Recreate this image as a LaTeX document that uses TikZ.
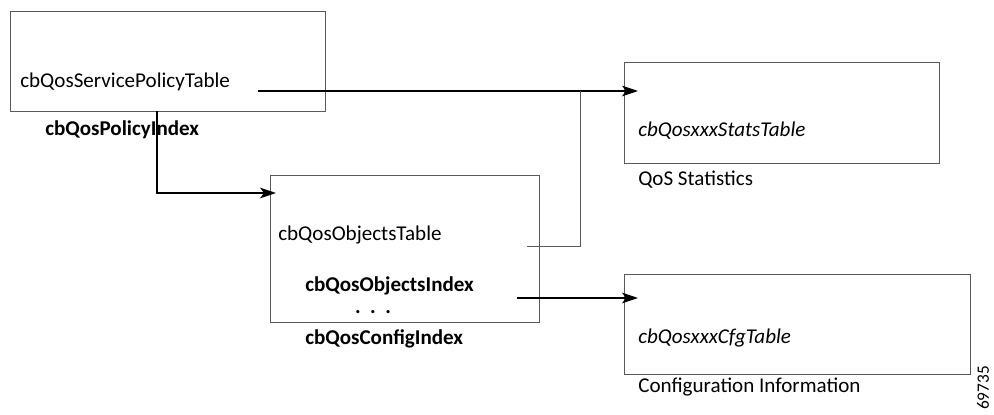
\documentclass[tikz,border=0pt]{standalone}
\usepackage{fontspec}
\setmainfont{Carlito}
\usepackage{tikz}
\usetikzlibrary{arrows.meta}

\newcommand{\tblfont}{\fontsize{15.8}{18}\selectfont}

\begin{document}
\begin{tikzpicture}[x=0.75pt, y=-0.75pt,
  tbl/.style={draw=black!65, line width=0.6pt, inner sep=0pt, anchor=north west},
  lbl/.style={anchor=west, inner sep=0pt, font=\tblfont},
  idx/.style={lbl, font=\tblfont\bfseries},
  tname/.style={lbl, font=\tblfont\itshape},
  link/.style={-{Stealth[length=12pt, width=8pt, inset=3pt]}, line width=1.3pt},
  tap/.style={draw=black!65, line width=0.6pt}]
  \useasboundingbox (0,0) rectangle (994,414);

  % Table boxes
  \node[tbl, minimum width={315*0.75pt}, minimum height={100*0.75pt}] (svc) at (10,11) {};
  \node[tbl, minimum width={269*0.75pt}, minimum height={147*0.75pt}] (obj) at (270,175) {};
  \node[tbl, minimum width={315*0.75pt}, minimum height={101*0.75pt}] (stats) at (624,62) {};
  \node[tbl, minimum width={346*0.75pt}, minimum height={100*0.75pt}] (cfg) at (624,274) {};

  % Table names and indexes
  \node[lbl] (svcname) at (20,82) {cbQosServicePolicyTable};
  \node[idx] (polidx) at (45,130) {cbQosPolicyIndex};
  \node[lbl] (objname) at (278,235) {cbQosObjectsTable};
  \node[idx] (objidx) at (305,286) {cbQosObjectsIndex};
  \node[font=\tblfont\bfseries, inner sep=0pt] (dots) at (373,312) {.\ \ .\ \ .};
  \node[idx] (cfgidx) at (305,339) {cbQosConfigIndex};
  \node[tname] (statsname) at (638,131) {cbQosxxxStatsTable};
  \node[lbl] (statscap) at (638,180) {QoS Statistics};
  \node[tname] (cfgname) at (638,338) {cbQosxxxCfgTable};
  \node[lbl] (cfgcap) at (638,387) {Configuration Information};
  \node[rotate=90, inner sep=0pt, font=\fontsize{13}{15}\selectfont] (figid) at (983,388) {69735};

  % Connector end points
  \coordinate (svcout) at (258,91);
  \coordinate (svcdown) at (157,111);
  \coordinate (objin) at (276,193);
  \coordinate (objout) at (527,246);
  \coordinate (joint) at (580,91);
  \coordinate (idxout) at (517,298);

  % Arrows
  \draw[link] (svcout) -- (svcout -| statsname.west);
  \draw[link] (svcdown) |- (objin);
  \draw[tap] (objout) -| (joint);
  \draw[link] (idxout) -- (idxout -| cfgname.west);
\end{tikzpicture}
\end{document}
